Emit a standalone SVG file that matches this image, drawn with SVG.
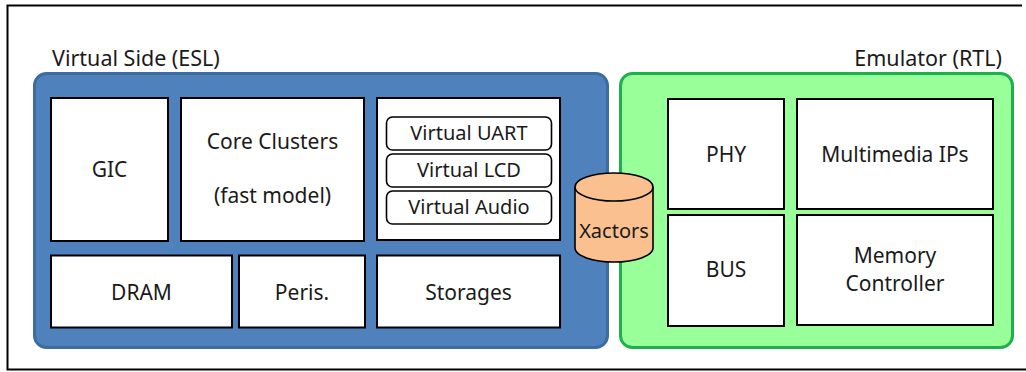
<svg xmlns="http://www.w3.org/2000/svg" width="1026" height="372" viewBox="0 0 1026 372">
<style>
text{font-family:"Noto Sans","Open Sans","Liberation Sans",sans-serif;font-size:21px;fill:#1a1a1a;text-anchor:middle}
.box{fill:#fff;stroke:#000;stroke-width:2}
.vbox{fill:#fff;stroke:#000;stroke-width:1.6}
.small{font-size:20px}
.title{font-size:21.5px}
</style>
<rect x="0" y="0" width="1026" height="372" fill="#fff"/>
<path d="M1022,5.5 H7.5 V369.5 H1026" fill="none" stroke="#000" stroke-width="2"/>
<g id="virtual-side">
<rect x="34.5" y="73.5" width="573" height="274" rx="12" fill="#4f81bd" stroke="#3f6c9e" stroke-width="3"/>
<text class="title" x="52" y="66" style="text-anchor:start">Virtual Side (ESL)</text>
</g>
<g id="emulator">
<rect x="620.5" y="73.5" width="392" height="274" rx="12" fill="#99ff99" stroke="#1db14b" stroke-width="3"/>
<text class="title" x="1002" y="66" style="text-anchor:end">Emulator (RTL)</text>
</g>
<g id="gic"><rect class="box" x="51" y="98" width="117" height="143"/><text x="109.5" y="177">GIC</text></g>
<g id="core-clusters"><rect class="box" x="181" y="98" width="183" height="143"/><text x="272.5" y="149">Core Clusters</text><text x="272.5" y="203">(fast model)</text></g>
<g id="virtual-devices"><rect class="box" x="377" y="98" width="183" height="142"/></g>
<g id="virtual-uart"><rect class="vbox" x="386.5" y="117" width="165" height="33" rx="6"/><text class="small" x="469" y="140">Virtual UART</text></g>
<g id="virtual-lcd"><rect class="vbox" x="386.5" y="154" width="165" height="33" rx="6"/><text class="small" x="469" y="177">Virtual LCD</text></g>
<g id="virtual-audio"><rect class="vbox" x="386.5" y="191" width="165" height="33" rx="6"/><text class="small" x="469" y="214">Virtual Audio</text></g>
<g id="dram"><rect class="box" x="51" y="255.5" width="181" height="72"/><text x="141.5" y="300">DRAM</text></g>
<g id="peris"><rect class="box" x="239" y="255.5" width="126" height="72"/><text x="302" y="300">Peris.</text></g>
<g id="storages"><rect class="box" x="377" y="255.5" width="183" height="72"/><text x="468.5" y="300">Storages</text></g>
<g id="xactors">
<path d="M575,187 V248 A39,14 0 0 0 653,248 V187" fill="#fac090" stroke="#000" stroke-width="1.6"/>
<ellipse cx="614" cy="187" rx="39" ry="14" fill="#fac090" stroke="#000" stroke-width="1.6"/>
<text class="small" x="614" y="238">Xactors</text>
</g>
<g id="phy"><rect class="box" x="668" y="99" width="116" height="110"/><text x="726" y="162">PHY</text></g>
<g id="multimedia-ips"><rect class="box" x="797" y="99" width="196" height="110"/><text x="895" y="162">Multimedia IPs</text></g>
<g id="bus"><rect class="box" x="668" y="215" width="116" height="111"/><text x="726" y="277">BUS</text></g>
<g id="memory-controller"><rect class="box" x="797" y="215" width="196" height="110"/><text x="895" y="263">Memory</text><text x="895" y="291">Controller</text></g>
<g id="connectors"></g>
</svg>
